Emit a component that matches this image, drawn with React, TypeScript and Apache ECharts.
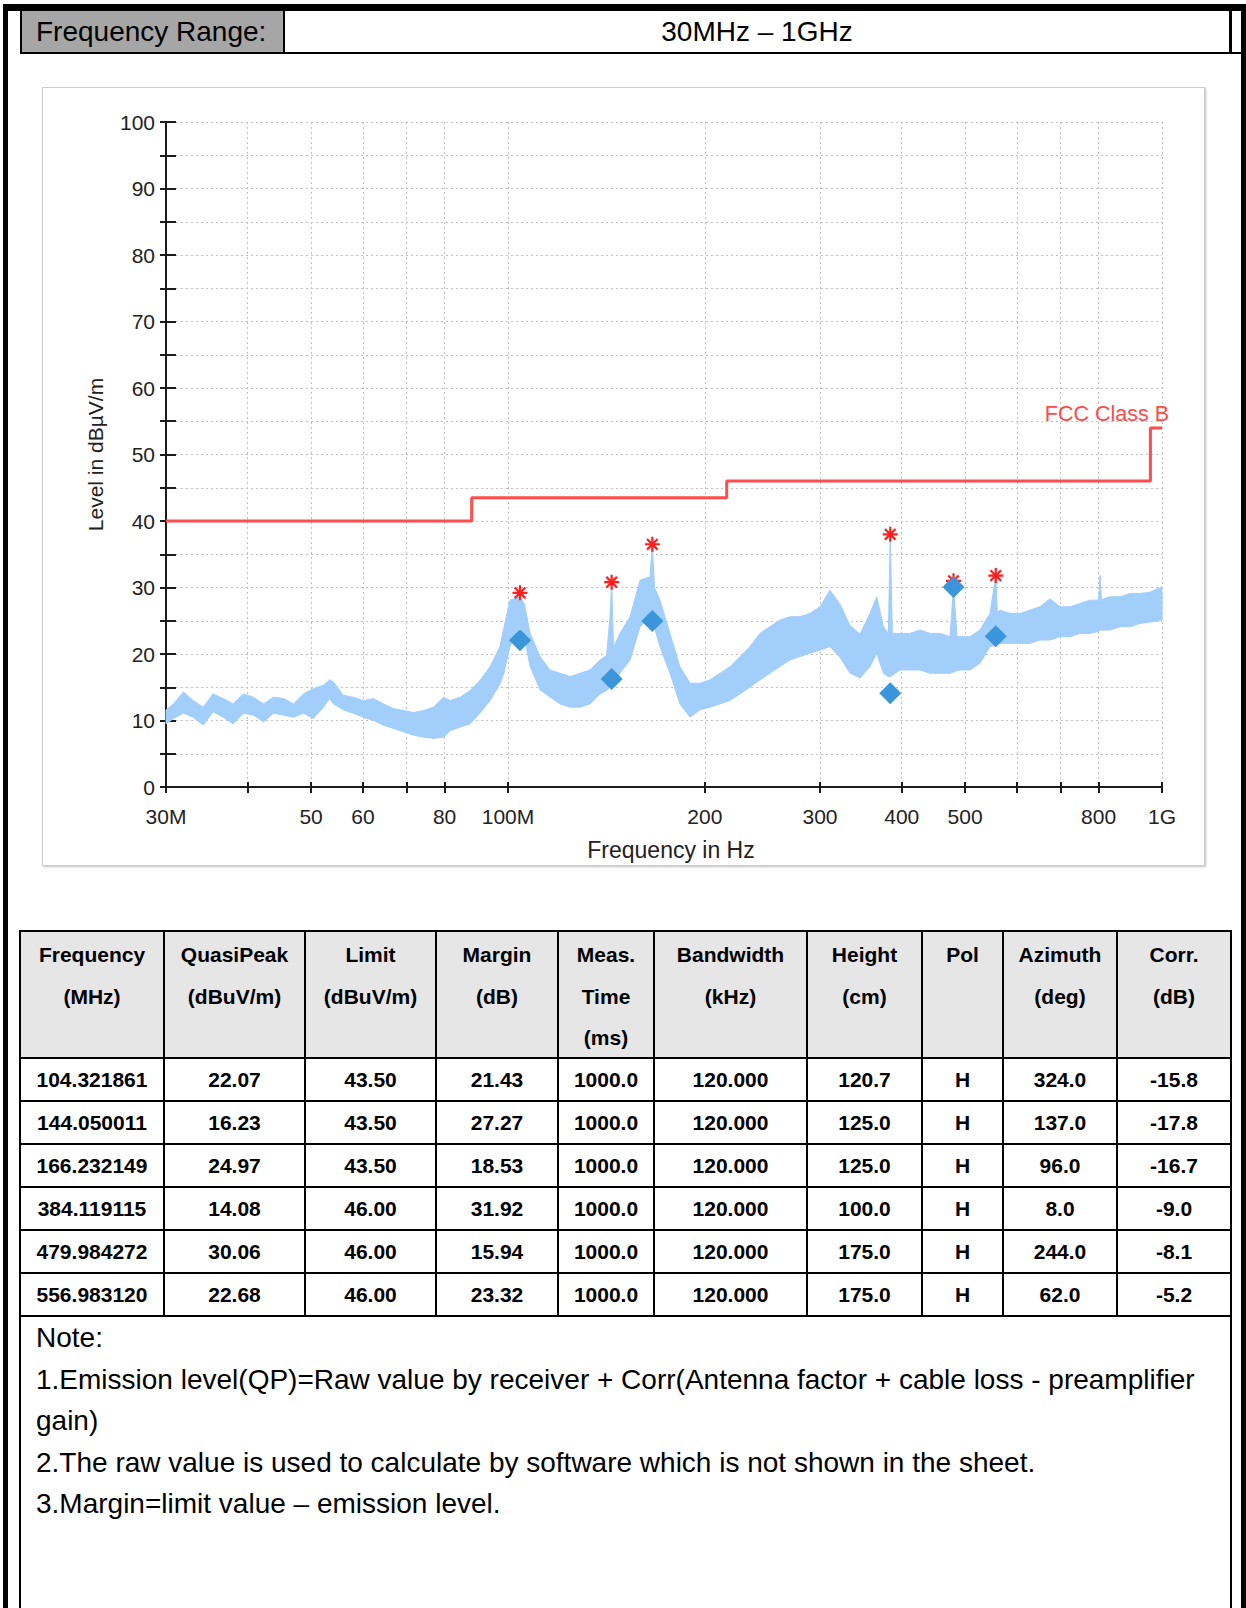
import React, { useEffect, useRef } from 'react';
import * as echarts from 'echarts';

const FONT = '"Liberation Sans", Arial, Helvetica, sans-serif';

// ---------- chart data ----------
const xTickFreqs = [30, 40, 50, 60, 70, 80, 100, 200, 300, 400, 500, 600, 700, 800, 1000];
const xLabelFreqs = [30, 50, 60, 80, 100, 200, 300, 400, 500, 800, 1000];
const xLabelNames: Record<number, string> = { 30: '30M', 100: '100M', 1000: '1G' };

// FCC Class B limit (MHz, dBuV/m)
const limitFreq = [30, 88, 88, 216, 216, 960, 960, 1000];
const limitLevel = [40, 40, 43.5, 43.5, 46, 46, 54, 54];

// Measured trace envelope: [freq MHz, lower dBuV/m, upper dBuV/m]
const traceEnvelope: [number, number, number][] = [
  [30.0, 9.5, 11.6], [30.8, 10.3, 12.5], [31.9, 11.1, 14.3], [33.0, 10.5, 13.0], [34.2, 9.3, 12.0],
  [35.4, 11.3, 14.0], [36.7, 10.5, 13.3], [38.0, 9.5, 12.5], [39.4, 11.1, 14.0], [40.8, 10.8, 13.5],
  [42.3, 9.8, 12.5], [43.8, 11.1, 13.5], [45.4, 10.8, 13.3], [47.0, 10.5, 12.5], [48.7, 11.1, 14.0],
  [50.4, 10.3, 14.8], [52.2, 12.0, 15.3], [53.4, 13.3, 16.1], [54.1, 12.5, 15.8], [56.0, 11.6, 13.8],
  [58.0, 11.1, 13.5], [60.1, 10.5, 13.0], [62.3, 10.0, 13.3], [64.5, 9.3, 12.5], [66.8, 8.8, 11.8],
  [69.2, 8.3, 11.5], [71.7, 7.8, 11.2], [74.3, 7.5, 11.5], [76.9, 7.3, 12.0], [79.7, 7.5, 13.5],
  [81.6, 8.5, 13.0], [84.5, 9.0, 13.5], [87.5, 9.5, 14.5], [90.6, 11.1, 16.0], [93.9, 13.0, 18.1],
  [97.2, 15.5, 21.1], [98.5, 17.0, 23.8], [100.7, 21.1, 28.1], [104.3, 24.1, 28.6], [106.0, 22.5, 27.5],
  [108.1, 18.1, 23.1], [112.0, 14.6, 19.6], [116.0, 13.5, 17.6], [120.1, 12.5, 17.1],
  [124.4, 12.0, 16.6], [128.9, 12.0, 17.1], [133.5, 12.5, 17.6], [138.3, 14.0, 19.1], [141.5, 14.5, 19.8],
  [143.2, 15.0, 25.5], [144.05, 15.2, 30.8], [145.0, 15.5, 21.0], [148.3, 17.1, 23.1], [153.7, 19.1, 25.6],
  [159.2, 24.1, 31.1], [164.9, 25.6, 31.6], [166.23, 25.0, 36.5], [167.5, 24.0, 30.0], [170.8, 21.1, 28.1],
  [176.9, 17.1, 23.1], [183.2, 12.5, 18.1], [189.8, 10.5, 15.6], [196.6, 11.6, 15.6],
  [203.6, 12.0, 16.1], [210.9, 12.5, 17.1], [218.5, 13.0, 18.1], [226.3, 14.0, 19.6], [234.4, 15.0, 21.1],
  [242.8, 16.1, 23.1], [251.4, 17.1, 24.1], [260.4, 18.1, 25.1], [269.8, 19.1, 25.6], [279.4, 19.6, 25.6],
  [289.5, 20.1, 26.1], [300.0, 20.6, 27.1], [310.7, 21.1, 29.6], [321.9, 19.5, 27.5], [333.4, 17.1, 24.3],
  [345.4, 16.4, 23.0], [357.7, 18.1, 26.1], [366.3, 20.1, 28.6], [375.0, 17.1, 24.1], [381.6, 16.6, 23.1],
  [384.12, 16.6, 38.0], [387.0, 16.8, 23.1], [397.7, 17.6, 23.1], [411.9, 17.6, 23.1], [426.7, 17.6, 23.6],
  [441.9, 17.1, 23.1], [457.7, 17.1, 23.1], [474.1, 17.1, 22.6], [479.98, 17.3, 30.0], [486.0, 17.5, 22.6],
  [491.1, 17.6, 22.6], [508.7, 17.6, 22.6], [526.8, 18.6, 23.6], [545.8, 21.1, 26.1], [556.98, 21.3, 31.8],
  [560.0, 21.4, 26.3], [565.3, 21.6, 26.6], [585.6, 21.6, 26.1], [606.5, 21.6, 26.1], [628.3, 21.6, 26.6],
  [650.8, 22.1, 27.1], [674.1, 22.1, 28.3], [698.4, 22.6, 27.1], [723.5, 22.6, 27.1], [749.3, 23.1, 27.6],
  [776.2, 23.1, 28.1], [800.0, 23.4, 28.1], [804.1, 23.6, 31.8], [808.0, 23.6, 28.2], [832.9, 23.6, 28.6],
  [862.7, 24.1, 28.6], [893.6, 24.1, 29.1], [925.6, 24.6, 29.1], [958.7, 24.8, 29.3], [1000, 25.1, 30.1],
];

// Final measurement table
const measFreq = ['104.321861', '144.050011', '166.232149', '384.119115', '479.984272', '556.983120'];
const quasiPeak = [22.07, 16.23, 24.97, 14.08, 30.06, 22.68];
const limitVal = [43.5, 43.5, 43.5, 46.0, 46.0, 46.0];
const marginVal = [21.43, 27.27, 18.53, 31.92, 15.94, 23.32];
const measTime = [1000.0, 1000.0, 1000.0, 1000.0, 1000.0, 1000.0];
const bandwidth = [120.0, 120.0, 120.0, 120.0, 120.0, 120.0];
const heightCm = [120.7, 125.0, 125.0, 100.0, 175.0, 175.0];
const polarity = ['H', 'H', 'H', 'H', 'H', 'H'];
const azimuth = [324.0, 137.0, 96.0, 8.0, 244.0, 62.0];
const corr = [-15.8, -17.8, -16.7, -9.0, -8.1, -5.2];
// preview peak detector levels at the same frequencies
const peakLevel = [29.2, 30.8, 36.5, 38.0, 31.0, 31.8];

const tableHeaders = [
  ['Frequency', '(MHz)'], ['QuasiPeak', '(dBuV/m)'], ['Limit', '(dBuV/m)'], ['Margin', '(dB)'],
  ['Meas.', 'Time', '(ms)'], ['Bandwidth', '(kHz)'], ['Height', '(cm)'], ['Pol'], ['Azimuth', '(deg)'], ['Corr.', '(dB)'],
];

const noteLines = [
  'Note:',
  '1.Emission level(QP)=Raw value by receiver + Corr(Antenna factor + cable loss - preamplifier',
  'gain)',
  '2.The raw value is used to calculate by software which is not shown in the sheet.',
  '3.Margin=limit value \u2013 emission level.',
];

// ---------- layout ----------
const colEdges = [20, 164, 305, 436, 558, 654, 807, 922, 1003, 1117, 1231];
const rowEdges = [931, 1058, 1101, 1144, 1187, 1230, 1273, 1316];

const lg = (f: number) => Math.log10(f);
const traceColor = '#a1cefa';
const axisColor = '#1c1c1c';
const textColor = '#222';
const gridLine = { color: '#c0c0c0', type: [2, 3] as any, width: 1 };

function buildOption() {
  const xMin = lg(30);
  const xMax = lg(1000);
  const fmtX = (v: number) => {
    const f = Math.round(Math.pow(10, v));
    return xLabelNames[f] ?? String(f);
  };
  const star = 'path://M10,0L10,20M0,10L20,10M2.9,2.9L17.1,17.1M2.9,17.1L17.1,2.9';
  return {
    animation: false,
    grid: { left: 123, right: 41, top: 34, bottom: 78, outerBoundsMode: 'none', containLabel: false },
    xAxis: [
      {
        type: 'value', min: xMin, max: xMax, position: 'bottom',
        axisLine: { show: true, onZero: false, lineStyle: { color: axisColor, width: 2 } },
        axisTick: { show: true, inside: false, length: 6, lineStyle: { color: axisColor, width: 2 }, customValues: xTickFreqs.map(lg) },
        axisLabel: { show: true, customValues: xLabelFreqs.map(lg), formatter: fmtX, margin: 19, fontSize: 21, color: textColor, fontFamily: FONT },
        splitLine: { show: true, lineStyle: gridLine },
        name: 'Frequency in Hz', nameLocation: 'middle', nameGap: 51,
        nameTextStyle: { fontSize: 23, color: textColor, fontFamily: FONT, padding: [0, 0, 0, 14] },
      },
      {
        type: 'value', min: xMin, max: xMax, position: 'bottom', offset: 0,
        axisLine: { show: false, onZero: false },
        axisTick: { show: true, inside: true, length: 5, lineStyle: { color: axisColor, width: 2 }, customValues: xTickFreqs.map(lg) },
        axisLabel: { show: false }, splitLine: { show: false },
      },
    ],
    yAxis: [
      {
        type: 'value', min: 0, max: 100, interval: 5, position: 'left',
        axisLine: { show: true, onZero: false, lineStyle: { color: axisColor, width: 2 } },
        axisTick: { show: true, inside: false, length: 6, lineStyle: { color: axisColor, width: 2 } },
        axisLabel: { formatter: (v: number) => (v % 10 === 0 ? String(v) : ''), margin: 11, fontSize: 21, color: textColor, fontFamily: FONT },
        splitLine: { show: true, lineStyle: gridLine },
        name: 'Level in dB\u00b5V/m', nameLocation: 'middle', nameGap: 60, nameRotate: 90,
        nameTextStyle: { fontSize: 21, color: textColor, fontFamily: FONT },
      },
      {
        type: 'value', min: 0, max: 100, interval: 5, position: 'left', offset: 0,
        axisLine: { show: false, onZero: false },
        axisTick: { show: true, inside: true, length: 10, lineStyle: { color: axisColor, width: 2 } },
        axisLabel: { show: false }, splitLine: { show: false },
      },
    ],
    series: [
      {
        type: 'custom', name: 'Preview', xAxisIndex: 0, yAxisIndex: 0, z: 2, silent: true,
        data: [[lg(traceEnvelope[0][0]), traceEnvelope[0][1]]],
        renderItem: (params: any, api: any) => {
          if (params.dataIndex !== 0) return null;
          const pts: number[][] = [];
          for (let i = 0; i < traceEnvelope.length; i++) pts.push(api.coord([lg(traceEnvelope[i][0]), traceEnvelope[i][2]]));
          for (let i = traceEnvelope.length - 1; i >= 0; i--) pts.push(api.coord([lg(traceEnvelope[i][0]), traceEnvelope[i][1]]));
          return { type: 'polygon', shape: { points: pts }, style: { fill: traceColor, stroke: traceColor, lineWidth: 1 } };
        },
      },
      {
        type: 'line', name: 'FCC Class B', xAxisIndex: 0, yAxisIndex: 0, z: 3, silent: true,
        data: limitFreq.map((f, i) => [lg(f), limitLevel[i]]),
        symbol: 'none', lineStyle: { color: '#ff4d4d', width: 3 },
        endLabel: {
          show: true, formatter: 'FCC Class B', align: 'right', verticalAlign: 'bottom', distance: 7,
          color: '#ff4a4a', fontSize: 21.5, fontFamily: FONT, padding: [0, 0, 3, 0],
        },
      },
      {
        type: 'scatter', name: 'Peak', xAxisIndex: 0, yAxisIndex: 0, z: 4, silent: true,
        data: measFreq.map((f, i) => [lg(parseFloat(f)), peakLevel[i]]),
        symbol: star, symbolSize: 15,
        itemStyle: { color: 'rgba(0,0,0,0)', borderColor: '#ff1f1f', borderWidth: 2.2, opacity: 1 },
      },
      {
        type: 'scatter', name: 'QuasiPeak', xAxisIndex: 0, yAxisIndex: 0, z: 5, silent: true,
        data: measFreq.map((f, i) => [lg(parseFloat(f)), quasiPeak[i]]),
        symbol: 'diamond', symbolSize: 22, itemStyle: { color: '#3a95da', opacity: 1 },
      },
    ],
  };
}

function Chart() {
  const ref = useRef<HTMLDivElement>(null);
  useEffect(() => {
    if (!ref.current) return;
    const chart = echarts.init(ref.current, null, { renderer: 'svg' });
    chart.setOption(buildOption() as any);
    return () => chart.dispose();
  }, []);
  return <div ref={ref} style={{ position: 'absolute', left: 43, top: 88, width: 1160, height: 777 }} />;
}

const abs = (s: React.CSSProperties): React.CSSProperties => ({ position: 'absolute', ...s });

export default function App() {
  const rows = measFreq.map((f, i) => [
    f, quasiPeak[i].toFixed(2), limitVal[i].toFixed(2), marginVal[i].toFixed(2), measTime[i].toFixed(1),
    bandwidth[i].toFixed(3), heightCm[i].toFixed(1), polarity[i], azimuth[i].toFixed(1), corr[i].toFixed(1),
  ]);
  const tableTop = rowEdges[0];
  const tableBottom = rowEdges[rowEdges.length - 1];
  return (
    <div style={abs({ left: 0, top: 0, width: 1246, height: 1608, overflow: 'hidden', background: '#fff', fontFamily: FONT, color: '#000' })}>
      {/* outer frame */}
      <div style={abs({ left: 3, top: 4, width: 1243, height: 1700, borderLeft: '5px solid #000', borderTop: '7px solid #000', borderRight: '5px solid #000', boxSizing: 'border-box' })} />
      {/* header row */}
      <div style={abs({ left: 20, top: 11, width: 265, height: 41, background: '#a6a6a6', borderLeft: '2px solid #000', borderRight: '2px solid #000', boxSizing: 'border-box', fontSize: 28, lineHeight: '41px', paddingLeft: 14, whiteSpace: 'nowrap' })}>Frequency Range:</div>
      <div style={abs({ left: 285, top: 11, width: 944, height: 41, fontSize: 28, lineHeight: '41px', textAlign: 'center', whiteSpace: 'nowrap' })}>30MHz {'\u2013'} 1GHz</div>
      <div style={abs({ left: 1229, top: 11, width: 3, height: 42, background: '#000' })} />
      <div style={abs({ left: 20, top: 52, width: 1221, height: 2, background: '#000' })} />

      {/* chart panel */}
      <div style={abs({ left: 42, top: 87, width: 1163, height: 779, border: '1px solid #cdcdcd', boxShadow: '1px 1px 2px rgba(0,0,0,0.25)', boxSizing: 'border-box', background: '#fff' })} />
      <Chart />

      {/* table header background */}
      <div style={abs({ left: colEdges[0], top: tableTop, width: colEdges[colEdges.length - 1] - colEdges[0], height: rowEdges[1] - tableTop, background: '#e6e6e6' })} />
      {/* table lines */}
      {rowEdges.map((y, i) => (
        <div key={'h' + i} style={abs({ left: colEdges[0] - 1, top: y - 1, width: colEdges[colEdges.length - 1] - colEdges[0] + 2, height: 2, background: '#000' })} />
      ))}
      {colEdges.map((x, i) => (
        <div key={'v' + i} style={abs({ left: x - 1, top: tableTop - 1, width: 2, height: tableBottom - tableTop + 2, background: '#000' })} />
      ))}
      {/* header texts */}
      {tableHeaders.map((lines, c) =>
        lines.map((t, k) => (
          <div key={'th' + c + '_' + k} style={abs({ left: colEdges[c], top: tableTop + 3 + k * 41.5, width: colEdges[c + 1] - colEdges[c], height: 41, lineHeight: '41px', textAlign: 'center', fontWeight: 'bold', fontSize: 21, whiteSpace: 'nowrap' })}>{t}</div>
        ))
      )}
      {/* data rows */}
      {rows.map((r, ri) =>
        r.map((t, c) => (
          <div key={'td' + ri + '_' + c} style={abs({ left: colEdges[c], top: rowEdges[ri + 1], width: colEdges[c + 1] - colEdges[c], height: rowEdges[ri + 2] - rowEdges[ri + 1], lineHeight: (rowEdges[ri + 2] - rowEdges[ri + 1]) + 'px', textAlign: 'center', fontWeight: 'bold', fontSize: 21, whiteSpace: 'nowrap' })}>{t}</div>
        ))
      )}
      {/* notes box lines */}
      <div style={abs({ left: 19, top: tableBottom, width: 2, height: 1608 - tableBottom, background: '#000' })} />
      <div style={abs({ left: 1230, top: tableBottom, width: 2, height: 1608 - tableBottom, background: '#000' })} />
      {noteLines.map((t, i) => (
        <div key={'n' + i} style={abs({ left: 36, top: tableBottom + 1 + i * 41.5, height: 41.5, lineHeight: '41.5px', fontSize: 28, whiteSpace: 'nowrap' })}>{t}</div>
      ))}
    </div>
  );
}
